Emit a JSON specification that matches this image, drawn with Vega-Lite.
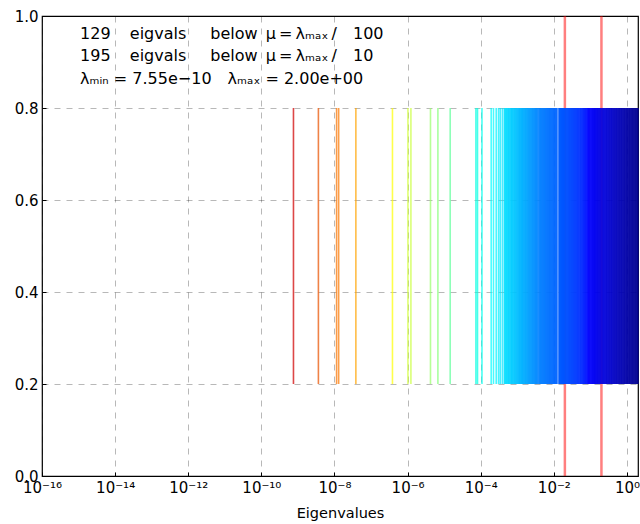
{
  "$schema": "https://vega.github.io/schema/vega-lite/v6.json",
  "width": 596,
  "height": 460,
  "autosize": {"type": "none"},
  "padding": {"left": 42, "top": 16, "right": 2, "bottom": 48},
  "background": "white",
  "config": {
    "font": "DejaVu Sans",
    "view": {"stroke": "#000000", "strokeWidth": 1.2},
    "axis": {
      "domain": false,
      "ticks": true,
      "tickSize": -4,
      "tickColor": "#000000",
      "tickWidth": 1,
      "labelColor": "#000000",
      "labelFontSize": 15,
      "titleColor": "#000000",
      "titleFontSize": 14.5,
      "titleFontWeight": "normal",
      "grid": true,
      "gridColor": "#000000",
      "gridOpacity": 0.28,
      "gridDash": [6, 6],
      "gridWidth": 1,
      "zindex": 1
    }
  },
  "datasets": {
    "mu": [{"lam": 0.02}, {"lam": 0.2}],
    "eig": [
      {"lam": 7.55e-10}, {"lam": 3.63e-9}, {"lam": 1.14e-8}, {"lam": 1.30e-8}, {"lam": 3.84e-8},
      {"lam": 3.85e-7}, {"lam": 1.02e-6}, {"lam": 1.23e-6}, {"lam": 4.22e-6}, {"lam": 6.73e-6},
      {"lam": 1.46e-5}, {"lam": 7.38e-5}, {"lam": 8.15e-5}, {"lam": 1.08e-4},
      {"lam": 1.93e-4}, {"lam": 2.23e-4}, {"lam": 2.65e-4}, {"lam": 3.06e-4}, {"lam": 3.41e-4}, {"lam": 3.9e-4},
      {"lam": 4.4e-4}, {"lam": 4.6e-4}, {"lam": 4.8e-4}, {"lam": 5.0e-4}, {"lam": 5.2e-4},
      {"lam": 5.5e-4}, {"lam": 5.7e-4}, {"lam": 5.9e-4}, {"lam": 6.2e-4}, {"lam": 6.5e-4},
      {"lam": 6.8e-4}, {"lam": 7.0e-4}, {"lam": 7.3e-4}, {"lam": 7.6e-4}, {"lam": 7.9e-4},
      {"lam": 8.3e-4}, {"lam": 8.6e-4}, {"lam": 8.9e-4}, {"lam": 9.3e-4}, {"lam": 9.7e-4},
      {"lam": 1.01e-3}, {"lam": 1.05e-3}, {"lam": 1.09e-3}, {"lam": 1.13e-3}, {"lam": 1.17e-3},
      {"lam": 1.21e-3}, {"lam": 1.26e-3}, {"lam": 1.30e-3}, {"lam": 1.34e-3}, {"lam": 1.38e-3},
      {"lam": 1.42e-3}, {"lam": 1.48e-3}, {"lam": 1.53e-3}, {"lam": 1.59e-3}, {"lam": 1.65e-3},
      {"lam": 1.71e-3}, {"lam": 1.77e-3}, {"lam": 1.84e-3}, {"lam": 1.91e-3}, {"lam": 1.98e-3},
      {"lam": 2.05e-3}, {"lam": 2.13e-3}, {"lam": 2.21e-3}, {"lam": 2.29e-3}, {"lam": 2.38e-3},
      {"lam": 2.47e-3}, {"lam": 2.56e-3}, {"lam": 2.66e-3}, {"lam": 2.76e-3}, {"lam": 2.86e-3},
      {"lam": 2.97e-3}, {"lam": 3.08e-3}, {"lam": 3.20e-3}, {"lam": 3.32e-3}, {"lam": 3.44e-3},
      {"lam": 3.57e-3}, {"lam": 3.75e-3}, {"lam": 3.95e-3},
      {"lam": 4.1e-3}, {"lam": 4.25e-3}, {"lam": 4.4e-3}, {"lam": 4.56e-3}, {"lam": 4.72e-3},
      {"lam": 4.89e-3}, {"lam": 5.07e-3}, {"lam": 5.25e-3}, {"lam": 5.44e-3}, {"lam": 5.63e-3},
      {"lam": 5.83e-3}, {"lam": 6.04e-3}, {"lam": 6.26e-3}, {"lam": 6.48e-3}, {"lam": 6.71e-3},
      {"lam": 6.95e-3}, {"lam": 7.2e-3}, {"lam": 7.46e-3}, {"lam": 7.73e-3}, {"lam": 8.0e-3},
      {"lam": 8.29e-3}, {"lam": 8.59e-3}, {"lam": 8.9e-3}, {"lam": 9.22e-3}, {"lam": 9.55e-3},
      {"lam": 9.89e-3}, {"lam": 1.025e-2}, {"lam": 1.06e-2}, {"lam": 1.1e-2}, {"lam": 1.14e-2},
      {"lam": 1.18e-2}, {"lam": 1.22e-2},
      {"lam": 1.38e-2}, {"lam": 1.41e-2}, {"lam": 1.44e-2}, {"lam": 1.47e-2}, {"lam": 1.50e-2},
      {"lam": 1.53e-2}, {"lam": 1.56e-2}, {"lam": 1.59e-2}, {"lam": 1.62e-2}, {"lam": 1.65e-2},
      {"lam": 1.68e-2}, {"lam": 1.71e-2}, {"lam": 1.74e-2}, {"lam": 1.77e-2}, {"lam": 1.80e-2},
      {"lam": 1.84e-2}, {"lam": 1.88e-2}, {"lam": 1.92e-2}, {"lam": 1.97e-2},
      {"lam": 2.04e-2}, {"lam": 2.1e-2}, {"lam": 2.17e-2}, {"lam": 2.24e-2}, {"lam": 2.31e-2},
      {"lam": 2.39e-2}, {"lam": 2.47e-2}, {"lam": 2.55e-2}, {"lam": 2.63e-2}, {"lam": 2.72e-2},
      {"lam": 2.81e-2}, {"lam": 2.9e-2}, {"lam": 3.0e-2}, {"lam": 3.1e-2}, {"lam": 3.2e-2},
      {"lam": 3.31e-2}, {"lam": 3.42e-2}, {"lam": 3.53e-2}, {"lam": 3.65e-2}, {"lam": 3.78e-2},
      {"lam": 3.92e-2}, {"lam": 4.05e-2}, {"lam": 4.2e-2}, {"lam": 4.35e-2}, {"lam": 4.52e-2},
      {"lam": 4.68e-2}, {"lam": 4.85e-2}, {"lam": 5.05e-2}, {"lam": 5.25e-2}, {"lam": 5.45e-2},
      {"lam": 5.65e-2}, {"lam": 5.85e-2}, {"lam": 6.1e-2}, {"lam": 6.3e-2}, {"lam": 6.5e-2},
      {"lam": 6.75e-2}, {"lam": 7.0e-2}, {"lam": 7.25e-2}, {"lam": 7.5e-2}, {"lam": 7.8e-2},
      {"lam": 8.1e-2}, {"lam": 8.4e-2}, {"lam": 8.7e-2}, {"lam": 9.0e-2}, {"lam": 9.3e-2},
      {"lam": 9.65e-2}, {"lam": 0.1}, {"lam": 0.104}, {"lam": 0.108}, {"lam": 0.112},
      {"lam": 0.116}, {"lam": 0.12}, {"lam": 0.124}, {"lam": 0.128}, {"lam": 0.132},
      {"lam": 0.136}, {"lam": 0.141}, {"lam": 0.146}, {"lam": 0.151}, {"lam": 0.156},
      {"lam": 0.161}, {"lam": 0.167}, {"lam": 0.173}, {"lam": 0.18}, {"lam": 0.187}, {"lam": 0.194},
      {"lam": 0.205}, {"lam": 0.213}, {"lam": 0.222}, {"lam": 0.231}, {"lam": 0.24},
      {"lam": 0.25}, {"lam": 0.26}, {"lam": 0.27}, {"lam": 0.281}, {"lam": 0.292},
      {"lam": 0.304}, {"lam": 0.316}, {"lam": 0.329}, {"lam": 0.342}, {"lam": 0.355},
      {"lam": 0.37}, {"lam": 0.385}, {"lam": 0.4}, {"lam": 0.416}, {"lam": 0.432},
      {"lam": 0.45}, {"lam": 0.468}, {"lam": 0.486}, {"lam": 0.506}, {"lam": 0.526},
      {"lam": 0.547}, {"lam": 0.569}, {"lam": 0.592}, {"lam": 0.615}, {"lam": 0.64},
      {"lam": 0.665}, {"lam": 0.692}, {"lam": 0.72}, {"lam": 0.748}, {"lam": 0.778},
      {"lam": 0.81}, {"lam": 0.842}, {"lam": 0.875}, {"lam": 0.91}, {"lam": 0.947},
      {"lam": 0.985}, {"lam": 1.02}, {"lam": 1.06}, {"lam": 1.1}, {"lam": 1.15},
      {"lam": 1.19}, {"lam": 1.24}, {"lam": 1.29}, {"lam": 1.34}, {"lam": 1.39},
      {"lam": 1.45}, {"lam": 1.5}, {"lam": 1.56}, {"lam": 1.62}, {"lam": 1.69},
      {"lam": 1.75}, {"lam": 1.82}, {"lam": 1.89}, {"lam": 1.95}, {"lam": 2.0}
    ]
  },
  "layer": [
    {
      "data": {"name": "mu"},
      "mark": {"type": "rule", "color": "#ff0000", "opacity": 0.5, "strokeWidth": 2.5},
      "encoding": {
        "x": {
          "field": "lam",
          "type": "quantitative",
          "title": "Eigenvalues",
          "scale": {"type": "log", "domain": [1e-16, 2], "nice": false},
          "axis": {
            "values": [1e-16, 1e-14, 1e-12, 1e-10, 1e-8, 1e-6, 1e-4, 1e-2, 1],
            "labelExpr": "datum.value < 1e-15 ? '10⁻¹⁶' : datum.value < 1e-13 ? '10⁻¹⁴' : datum.value < 1e-11 ? '10⁻¹²' : datum.value < 1e-9 ? '10⁻¹⁰' : datum.value < 1e-7 ? '10⁻⁸' : datum.value < 1e-5 ? '10⁻⁶' : datum.value < 1e-3 ? '10⁻⁴' : datum.value < 0.1 ? '10⁻²' : '10⁰'",
            "labelFlush": false,
            "labelOverlap": false,
            "labelBound": false,
            "labelPadding": 8,
            "titlePadding": 11
          }
        },
        "y": {
          "datum": 0,
          "type": "quantitative",
          "scale": {"domain": [0, 1], "nice": false},
          "axis": {"values": [0, 0.2, 0.4, 0.6, 0.8, 1], "format": ".1f", "title": null, "labelPadding": 8}
        },
        "y2": {"datum": 1}
      }
    },
    {
      "data": {"name": "eig"},
      "mark": {"type": "rule", "strokeWidth": 1.6, "opacity": 0.72},
      "encoding": {
        "x": {"field": "lam", "type": "quantitative"},
        "y": {"datum": 0.2, "type": "quantitative"},
        "y2": {"datum": 0.8},
        "color": {
          "field": "lam",
          "type": "quantitative",
          "scale": {
            "type": "log",
            "domain": [7.55e-10, 1.675e-8, 3.715e-7, 8.22e-6, 1.824e-4, 4.05e-3, 8.97e-2, 2],
            "range": ["#d00000", "#ff8000", "#ffff00", "#80ff80", "#00ffff", "#0080ff", "#0000ff", "#00008f"]
          },
          "legend": null
        }
      }
    },
    {
      "data": {"values": [{"t": "129\u2003\u2009eigvals\u2003\u2002below\u2002μ\u2009=\u2009λₘₐₓ\u2009/\u2003100\n195\u2003\u2009eigvals\u2003\u2002below\u2002μ\u2009=\u2009λₘₐₓ\u2009/\u200310\nλₘᵢₙ = 7.55e−10\u2003λₘₐₓ = 2.00e+00"}]},
      "mark": {"type": "text", "align": "left", "baseline": "top", "fontSize": 16, "lineBreak": "\n", "lineHeight": 22.5, "color": "#000000"},
      "encoding": {
        "x": {"datum": 1.1e-15, "type": "quantitative"},
        "y": {"datum": 0.979, "type": "quantitative"},
        "text": {"field": "t"}
      }
    }
  ]
}
